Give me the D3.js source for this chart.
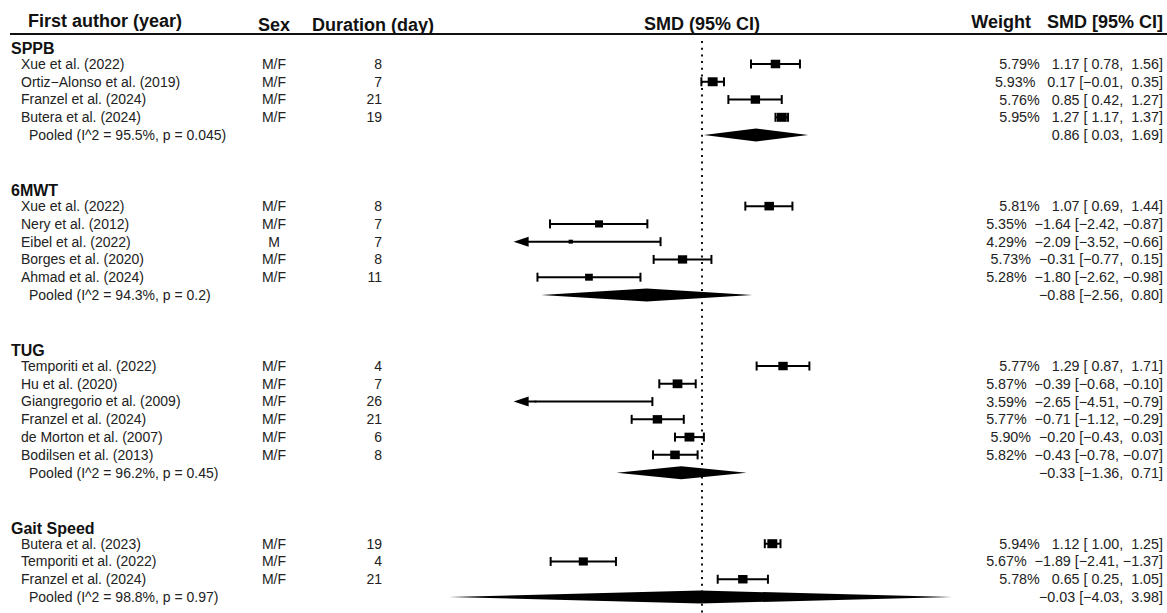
<!DOCTYPE html>
<html>
<head>
<meta charset="utf-8">
<script src="https://cdn.jsdelivr.net/npm/d3@7"></script>
<style>
  body { margin: 0; background: #fff; }
  svg text { font-family: "Liberation Sans", Arial, sans-serif; white-space: pre; }
</style>
</head>
<body>
<div id="chart"></div>
<script>
// ---- data ----
const groups = ["SPPB", "6MWT", "TUG", "Gait Speed"];
const studyGroup = [0, 0, 0, 0, 1, 1, 1, 1, 1, 2, 2, 2, 2, 2, 2, 3, 3, 3];
const authors = [
  "Xue et al. (2022)", "Ortiz\u2212Alonso et al. (2019)", "Franzel et al. (2024)", "Butera et al. (2024)",
  "Xue et al. (2022)", "Nery et al. (2012)", "Eibel et al. (2022)", "Borges et al. (2020)", "Ahmad et al. (2024)",
  "Temporiti et al. (2022)", "Hu et al. (2020)", "Giangregorio et al. (2009)", "Franzel et al. (2024)", "de Morton et al. (2007)", "Bodilsen et al. (2013)",
  "Butera et al. (2023)", "Temporiti et al. (2022)", "Franzel et al. (2024)"
];
const sex = ["M/F", "M/F", "M/F", "M/F", "M/F", "M/F", "M", "M/F", "M/F", "M/F", "M/F", "M/F", "M/F", "M/F", "M/F", "M/F", "M/F", "M/F"];
const duration = [8, 7, 21, 19, 8, 7, 7, 8, 11, 4, 7, 26, 21, 6, 8, 19, 4, 21];
const weight = [5.79, 5.93, 5.76, 5.95, 5.81, 5.35, 4.29, 5.73, 5.28, 5.77, 5.87, 3.59, 5.77, 5.90, 5.82, 5.94, 5.67, 5.78];
const smd = [1.17, 0.17, 0.85, 1.27, 1.07, -1.64, -2.09, -0.31, -1.80, 1.29, -0.39, -2.65, -0.71, -0.20, -0.43, 1.12, -1.89, 0.65];
const ciLow = [0.78, -0.01, 0.42, 1.17, 0.69, -2.42, -3.52, -0.77, -2.62, 0.87, -0.68, -4.51, -1.12, -0.43, -0.78, 1.00, -2.41, 0.25];
const ciHigh = [1.56, 0.35, 1.27, 1.37, 1.44, -0.87, -0.66, 0.15, -0.98, 1.71, -0.10, -0.79, -0.29, 0.03, -0.07, 1.25, -1.37, 1.05];

const pooledLabel = [
  "Pooled (I^2 = 95.5%, p = 0.045)", "Pooled (I^2 = 94.3%, p = 0.2)",
  "Pooled (I^2 = 96.2%, p = 0.45)", "Pooled (I^2 = 98.8%, p = 0.97)"
];
const pooledSmd = [0.86, -0.88, -0.33, -0.03];
const pooledLow = [0.03, -2.56, -1.36, -4.03];
const pooledHigh = [1.69, 0.80, 0.71, 3.98];

const xLimits = [-3, 3];

// ---- layout ----
const width = 1167, height = 613;
const svg = d3.select("#chart").append("svg")
  .attr("width", width)
  .attr("height", height);

// build the row list (slot index for each line)
let rows = [];
let slot = -1;
groups.forEach((g, gi) => {
  rows.push({type: "group", gi: gi, slot: slot});
  slot++;
  studyGroup.forEach((sg, i) => {
    if (sg === gi) { rows.push({type: "study", i: i, slot: slot}); slot++; }
  });
  rows.push({type: "pooled", gi: gi, slot: slot});
  slot += 3;
});
const lastSlot = d3.max(rows, d => d.slot);

const y = d3.scaleLinear().domain([0, lastSlot]).range([64, 597]);
const x = d3.scaleLinear().domain(xLimits).range([513.6, 890.4]);
const boxSize = d3.scaleLinear().domain([d3.min(weight), d3.max(weight)]).range([2, 10]);

const fmt = d3.format(".2f");
function num(v) {
  let s = fmt(v).replace("-", "\u2212");
  return v < 0 ? s : " " + s;
}
function annot(est, lo, hi) {
  return num(est) + " [" + num(lo) + ", " + num(hi) + "]";
}

// ---- header ----
const header = svg.append("g").style("font-weight", "bold").style("font-size", "18px").attr("fill", "#111");
header.append("text").attr("x", 28).attr("y", 27).text("First author (year)");
header.append("text").attr("x", 274).attr("y", 31).attr("text-anchor", "middle").text("Sex");
header.append("text").attr("x", 312).attr("y", 31).text("Duration (day)");
header.append("text").attr("x", x(0)).attr("y", 30).attr("text-anchor", "middle").text("SMD (95% CI)");
header.append("text").attr("x", 1031).attr("y", 28).attr("text-anchor", "end").text("Weight");
header.append("text").attr("x", 1163).attr("y", 28).attr("text-anchor", "end").text("SMD [95% CI]");

svg.append("line")
  .attr("x1", 10).attr("x2", width)
  .attr("y1", 34).attr("y2", 34)
  .attr("stroke", "#111").attr("stroke-width", 2);

// reference line at 0
svg.append("line")
  .attr("x1", x(0)).attr("x2", x(0))
  .attr("y1", 41).attr("y2", height)
  .attr("stroke", "#111")
  .attr("stroke-width", 2)
  .attr("stroke-dasharray", "2,4.7");

// ---- text columns ----
const txt = svg.append("g").style("font-size", "14px").attr("fill", "#222");

rows.filter(d => d.type === "group").forEach(d => {
  svg.append("text")
    .attr("x", 11).attr("y", y(d.slot) + 2).attr("dy", "0.35em")
    .style("font-size", "16px").style("font-weight", "bold").attr("fill", "#111")
    .text(groups[d.gi]);
});

rows.filter(d => d.type === "study").forEach(d => {
  const i = d.i, yy = y(d.slot);
  txt.append("text").attr("x", 21).attr("y", yy).attr("dy", "0.35em").text(authors[i]);
  txt.append("text").attr("x", 274).attr("y", yy).attr("dy", "0.35em").attr("text-anchor", "middle").text(sex[i]);
  txt.append("text").attr("x", 382).attr("y", yy).attr("dy", "0.35em").attr("text-anchor", "end").text(duration[i]);
  txt.append("text").attr("x", 1163).attr("y", yy).attr("dy", "0.35em").attr("text-anchor", "end")
    .attr("xml:space", "preserve").style("font-size", "14.3px")
    .text(fmt(weight[i]) + "%  " + annot(smd[i], ciLow[i], ciHigh[i]));
});

rows.filter(d => d.type === "pooled").forEach(d => {
  const g = d.gi, yy = y(d.slot);
  txt.append("text").attr("x", 29).attr("y", yy).attr("dy", "0.35em").text(pooledLabel[g]);
  txt.append("text").attr("x", 1163).attr("y", yy).attr("dy", "0.35em").attr("text-anchor", "end")
    .attr("xml:space", "preserve").style("font-size", "14.3px")
    .text(annot(pooledSmd[g], pooledLow[g], pooledHigh[g]));
});

// ---- study CIs and boxes ----
const marks = svg.append("g").attr("fill", "#000").attr("stroke", "#000");
const capH = 4.5;

rows.filter(d => d.type === "study").forEach(d => {
  const i = d.i, yy = y(d.slot);
  const clipped = ciLow[i] < xLimits[0];
  const xl = clipped ? x(xLimits[0]) : x(ciLow[i]);
  const xh = x(ciHigh[i]);
  marks.append("line")
    .attr("x1", clipped ? xl + 10 : xl).attr("x2", xh)
    .attr("y1", yy).attr("y2", yy)
    .attr("stroke-width", 2);
  // right cap
  marks.append("line")
    .attr("x1", xh).attr("x2", xh)
    .attr("y1", yy - capH).attr("y2", yy + capH)
    .attr("stroke-width", 2);
  if (clipped) {
    marks.append("path")
      .attr("d", d3.line()([[xl, yy], [xl + 15, yy - 5], [xl + 15, yy + 5]]) + "Z")
      .attr("stroke", "none");
  } else {
    marks.append("line")
      .attr("x1", xl).attr("x2", xl)
      .attr("y1", yy - capH).attr("y2", yy + capH)
      .attr("stroke-width", 2);
  }
  const s = boxSize(weight[i]);
  marks.append("rect")
    .attr("x", x(smd[i]) - s / 2).attr("y", yy - s * 0.45)
    .attr("width", s).attr("height", s * 0.9)
    .attr("stroke", "none");
});

// ---- pooled diamonds ----
rows.filter(d => d.type === "pooled").forEach(d => {
  const g = d.gi, yy = y(d.slot), h = 6.5;
  marks.append("path")
    .attr("d", d3.line()([
      [x(pooledLow[g]), yy], [x(pooledSmd[g]), yy - h],
      [x(pooledHigh[g]), yy], [x(pooledSmd[g]), yy + h]
    ]) + "Z")
    .attr("stroke", "none");
});
</script>
</body>
</html>
